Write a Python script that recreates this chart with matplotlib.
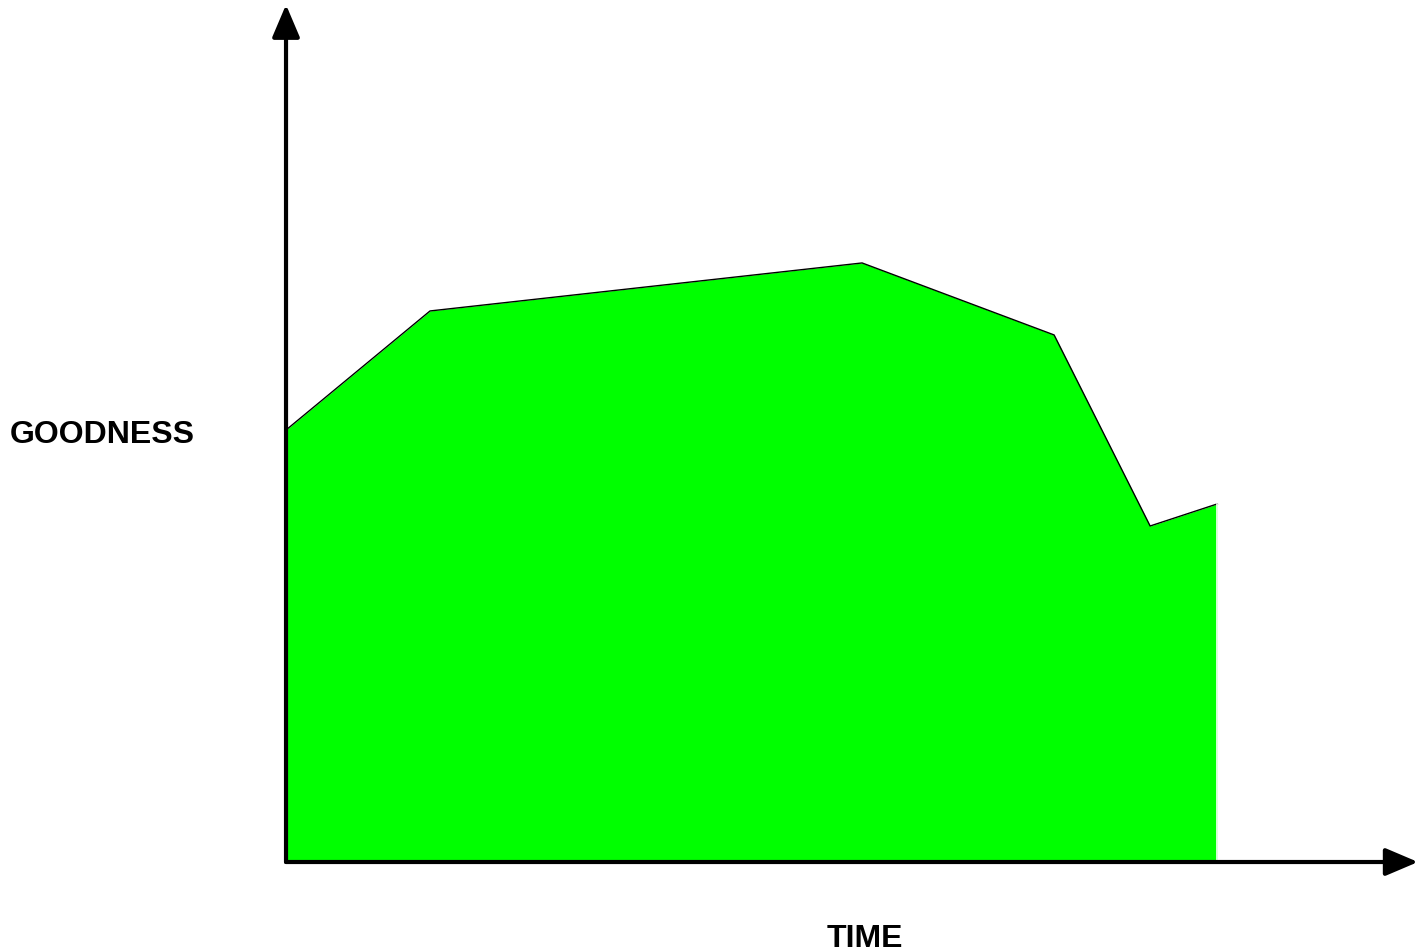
import matplotlib
matplotlib.use("Agg")
import matplotlib.pyplot as plt

# goodness over time
time = [0, 1.5, 6, 8, 9, 9.7]
goodness = [4.5, 5.74, 6.24, 5.49, 3.5, 3.73]

plt.rcParams['font.family'] = ['Liberation Sans', 'DejaVu Sans']

fig = plt.figure(figsize=(14.18, 9.51), dpi=100)
ax = fig.add_axes([0, 0, 1, 1])
ax.set_xlim(-2.979, 11.79)
ax.set_ylim(-0.927, 8.979)
ax.axis('off')

ax.fill_between(time, goodness, 0, color='#00ff00', linewidth=0, zorder=1)
ax.plot(time, goodness, color='black', linewidth=1, zorder=2)
ax.plot([time[-1], time[-1]], [goodness[-1], 0], color='white', linewidth=1.2, zorder=2)

# axes with arrow heads
arrow = dict(arrowstyle='-|>,head_length=2.0,head_width=0.85', color='black',
             linewidth=3, shrinkA=0, shrinkB=0, joinstyle='round')
ax.annotate('', xy=(0, 8.93), xytext=(0, 0), arrowprops=arrow, zorder=3)
ax.annotate('', xy=(11.79, 0), xytext=(0, 0), arrowprops=arrow, zorder=3)

ax.text(-1.917, 4.45, 'GOODNESS', fontsize=23, fontweight='bold', ha='center', va='center')
ax.text(6.03, -0.8, 'TIME', fontsize=23, fontweight='bold', ha='center', va='center')

fig.savefig('out.png', dpi=100)
